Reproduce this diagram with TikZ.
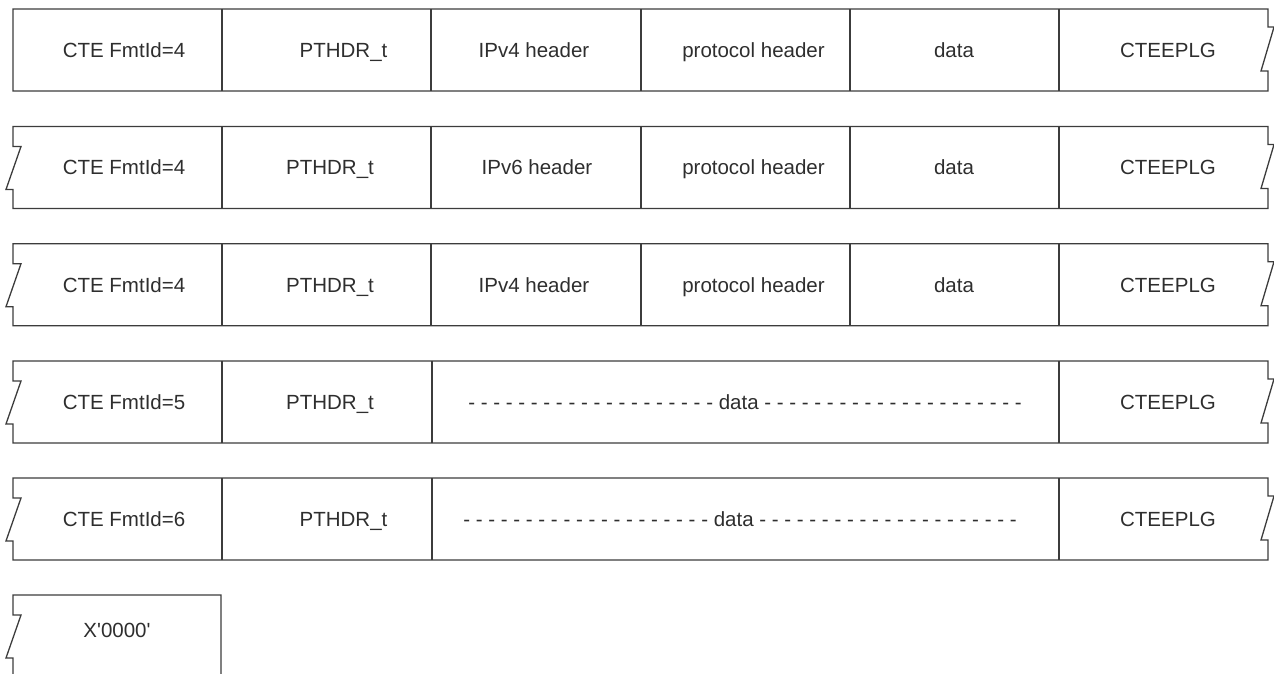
\documentclass[tikz,border=0pt]{standalone}
\usepackage{fontspec}
\setmainfont{Liberation Sans}
\newfontfamily\plainsans{Liberation Sans}
\definecolor{ink}{HTML}{2E2E2E}
\definecolor{edge}{HTML}{3C3C3C}
\tikzset{
  lbl/.style={anchor=base, inner sep=0pt, text=ink, font=\fontsize{20.5}{24}\selectfont},
  outline/.style={draw=edge, line width=1.3pt, line join=miter},
  divider/.style={draw=edge, line width=1.3pt},
}
\begin{document}
\begin{tikzpicture}[x=1pt,y=-1pt]
\useasboundingbox (0,0) rectangle (1274,674);
\begin{scope}
\clip (0,0) rectangle (1274,674);
% Row 1: straight left, broken right
\draw[outline] (13,9) -- (1268,9) -- (1268,27) -- (1274,27) -- (1261,71) -- (1268,71) -- (1268,91) -- (13,91) -- cycle;
% Rows 2-5: broken both sides
\foreach \T in {126.5,243.7,361,478}{
  \draw[outline] (13,\T) -- (1268,\T) -- (1268,\T+18) -- (1274,\T+18) -- (1261,\T+62) -- (1268,\T+62) -- (1268,\T+82)
     -- (13,\T+82) -- (13,\T+63) -- (6,\T+63) -- (21,\T+20) -- (13,\T+20) -- cycle;
}
% Row 6: broken left, continues below
\draw[outline] (13,700) -- (13,595+63) -- (6,595+63) -- (21,595+20) -- (13,595+20) -- (13,595) -- (221,595) -- (221,700);
\end{scope}
% dividers rows 1-3
\foreach \T in {9,126.5,243.7}{
  \foreach \X in {222,431,641,850,1059}{
    \draw[divider] (\X,\T) -- (\X,\T+82);
  }
}
% dividers rows 4-5
\foreach \T in {361,478}{
  \foreach \X in {222,432,1059}{
    \draw[divider] (\X,\T) -- (\X,\T+82);
  }
}
% Labels row 1
\node[lbl] (a1) at (124,57.3) {CTE FmtId=4};
\node[lbl] (a2) at (343.5,57.3) {PTHDR\_t};
\node[lbl] (a3) at (534,57.3) {IPv4 header};
\node[lbl] (a4) at (753.5,57.3) {protocol header};
\node[lbl] (a5) at (954,57.3) {data};
\node[lbl] (a6) at (1168,57.3) {CTEEPLG};
% Row 2
\node[lbl] (b1) at (124,174.8) {CTE FmtId=4};
\node[lbl] (b2) at (330,174.8) {PTHDR\_t};
\node[lbl] (b3) at (537,174.8) {IPv6 header};
\node[lbl] (b4) at (753.5,174.8) {protocol header};
\node[lbl] (b5) at (954,174.8) {data};
\node[lbl] (b6) at (1168,174.8) {CTEEPLG};
% Row 3
\node[lbl] (c1) at (124,292) {CTE FmtId=4};
\node[lbl] (c2) at (330,292) {PTHDR\_t};
\node[lbl] (c3) at (534,292) {IPv4 header};
\node[lbl] (c4) at (753.5,292) {protocol header};
\node[lbl] (c5) at (954,292) {data};
\node[lbl] (c6) at (1168,292) {CTEEPLG};
% Row 4
\node[lbl] (d1) at (124,409.3) {CTE FmtId=5};
\node[lbl] (d2) at (330,409.3) {PTHDR\_t};
\node[lbl] (d3) at (745,409.3) {- - - - - - - - - - - - - - - - - - - - data - - - - - - - - - - - - - - - - - - - - -};
\node[lbl] (d6) at (1168,409.3) {CTEEPLG};
% Row 5
\node[lbl] (e1) at (124,526.3) {CTE FmtId=6};
\node[lbl] (e2) at (343.5,526.3) {PTHDR\_t};
\node[lbl] (e3) at (740,526.3) {- - - - - - - - - - - - - - - - - - - - data - - - - - - - - - - - - - - - - - - - - -};
\node[lbl] (e6) at (1168,526.3) {CTEEPLG};
% Row 6
\node[lbl, font=\plainsans\fontsize{20.5}{24}\selectfont] (f1) at (117,637.3) {X'0000'};
\end{tikzpicture}
\end{document}
